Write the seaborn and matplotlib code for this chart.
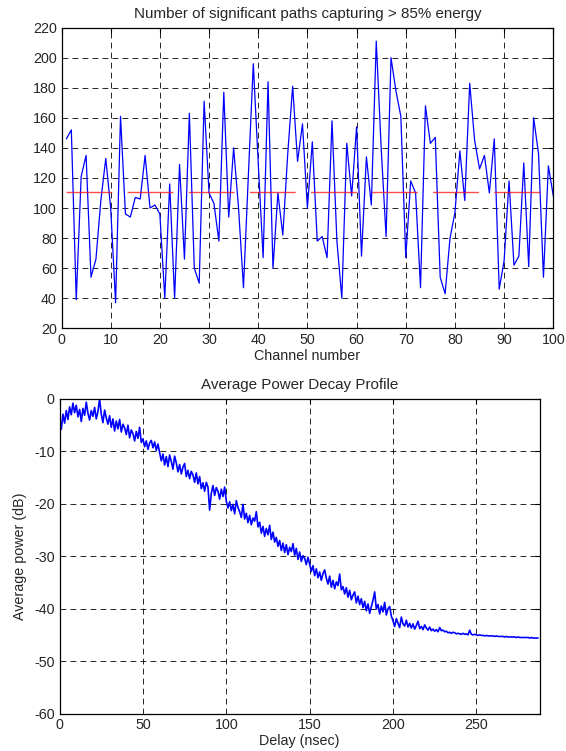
import matplotlib
matplotlib.use("Agg")
import matplotlib.pyplot as plt
import numpy as np
import pandas as pd
import seaborn as sns

# ---------------- data ----------------
channels = list(range(1, 101))
significant_paths = [
    146, 152, 39, 121, 135, 54, 66, 105, 133, 100,
    37, 161, 96, 94, 107, 106, 135, 100, 102, 96,
    40, 116, 40, 129, 66, 163, 60, 50, 171, 110,
    103, 78, 177, 94, 140, 100, 47, 122, 196, 130,
    67, 184, 60, 110, 82, 136, 181, 131, 156, 100,
    144, 78, 81, 67, 158, 78, 40, 143, 108, 154,
    68, 134, 102, 211, 140, 81, 200, 178, 161, 67,
    118, 110, 47, 168, 143, 147, 54, 43, 80, 97,
    138, 105, 183, 145, 126, 135, 110, 146, 46, 65,
    118, 62, 68, 130, 61, 160, 136, 54, 128, 108,
]
mean_paths = 110.7

delay_ns = list(range(0, 288))
avg_power_db = [
    -3.5, -5.8, -2.9, -4.6, -2.2, -3.9, -1.5, -3.0, -0.8, -2.6,
    -1.2, -3.4, -2.0, -4.3, -1.8, -3.1, -0.6, -2.7, -4.0, -2.2,
    -3.3, -1.6, -3.8, -2.4, 0.0, -2.9, -4.5, -2.1, -3.6, -4.8,
    -3.2, -5.4, -3.8, -6.1, -4.2, -5.7, -3.9, -6.3, -4.8, -5.5,
    -6.8, -5.0, -7.4, -5.9, -6.6, -8.0, -6.2, -7.5, -5.4, -8.3,
    -7.6, -9.1, -8.0, -9.6, -8.4, -7.9, -9.3, -8.2, -9.8, -8.6,
    -10.2, -11.8, -10.5, -12.6, -11.0, -12.9, -10.7, -11.9, -13.4, -10.9,
    -12.2, -13.9, -12.5, -14.3, -13.0, -12.3, -14.8, -13.6, -15.2, -13.8,
    -14.5, -15.9, -14.1, -16.2, -14.8, -17.1, -16.0, -17.6, -15.9, -16.8,
    -21.2, -18.0, -16.5, -18.4, -16.9, -17.6, -19.1, -17.2, -18.6, -16.8,
    -19.5, -20.8, -19.6, -21.3, -20.1, -21.9, -19.4, -20.7, -21.5, -22.6,
    -20.1, -22.9, -21.8, -23.6, -22.2, -24.0, -22.7, -23.3, -21.5, -24.4,
    -23.5, -25.6, -24.3, -26.2, -24.7, -25.9, -24.1, -26.8, -25.4, -27.3,
    -26.4, -28.1, -27.0, -28.9, -27.5, -29.3, -27.8, -29.7, -28.3, -29.1,
    -27.6, -29.8, -28.5, -30.6, -29.2, -31.0, -29.9, -30.4, -31.6, -30.2,
    -31.5, -32.9, -31.8, -33.7, -32.4, -34.1, -33.0, -34.6, -33.3, -32.6,
    -34.2, -35.3, -33.8, -35.9, -34.6, -36.2, -34.9, -35.6, -33.4, -36.4,
    -35.8, -37.2, -36.0, -37.8, -36.5, -38.3, -37.4, -36.8, -38.9, -37.6,
    -39.2, -38.1, -39.8, -38.6, -40.4, -39.1, -40.9, -39.6, -38.4, -36.8,
    -40.1, -39.2, -41.0, -39.5, -40.6, -38.8, -41.2, -40.0, -39.6, -41.4,
    -42.3, -43.4, -41.9, -42.8, -43.6, -41.6, -42.9, -43.3, -42.2, -43.5,
    -42.8, -43.7, -42.9, -43.9, -43.2, -42.4, -43.8, -43.4, -44.0, -43.1,
    -43.7, -44.1, -43.5, -44.2, -43.9, -44.3, -44.0, -44.4, -43.6, -44.2,
    -44.1, -44.4, -44.3, -44.6, -44.5, -44.7, -44.5, -44.6, -44.8, -44.7,
    -44.8, -44.9, -44.7, -44.9, -44.8, -45.0, -44.1, -44.9, -45.0, -44.9,
    -45.0, -45.1, -45.0, -45.1, -45.1, -45.2, -45.1, -45.2, -45.2, -45.2,
    -45.2, -45.3, -45.2, -45.3, -45.3, -45.3, -45.3, -45.4, -45.3, -45.4,
    -45.4, -45.4, -45.4, -45.4, -45.5, -45.4, -45.5, -45.5, -45.5, -45.5,
    -45.5, -45.5, -45.6, -45.5, -45.6, -45.6, -45.6, -45.6,
]

top_xticks = [0, 10, 20, 30, 40, 50, 60, 70, 80, 90, 100]
top_yticks = [20, 40, 60, 80, 100, 120, 140, 160, 180, 200, 220]
bot_xticks = [0, 50, 100, 150, 200, 250]
bot_yticks = [-60, -50, -40, -30, -20, -10, 0]

# ---------------- style ----------------
sns.set_style("white")
plt.rcParams["font.family"] = ["Liberation Sans", "DejaVu Sans"]
plt.rcParams["axes.unicode_minus"] = False
FS = 10.3
TFS = 10.9

fig = plt.figure(figsize=(5.66, 7.51), dpi=100)
W, H = 566, 751
ax1 = fig.add_axes([61.5 / W, 1 - 328.3 / H, (553.3 - 61.5) / W, (328.3 - 27.6) / H])
ax2 = fig.add_axes([59.6 / W, 1 - 713.5 / H, (539.7 - 59.6) / W, (713.5 - 399.0) / H])

df1 = pd.DataFrame({"channel": channels, "paths": significant_paths})
df2 = pd.DataFrame({"delay": delay_ns, "power": avg_power_db})

sns.lineplot(data=df1, x="channel", y="paths", ax=ax1, color="#0000FF", lw=0.9)
ax1.hlines(mean_paths, channels[0], channels[-1], colors="#FF0000", lw=1.0,
           linestyles=(0, (33, 11)), alpha=0.7)
sns.lineplot(data=df2, x="delay", y="power", ax=ax2, color="#0000FF", lw=1.2)


def style(ax, xt, yt, xlim, ylim, title, xlabel, ylabel):
    ax.set_xlim(*xlim)
    ax.set_ylim(*ylim)
    ax.set_xticks(xt)
    ax.set_yticks(yt)
    ax.grid(True, color="black", lw=0.6, linestyle=(0, (7, 5)))
    ax.set_axisbelow(True)
    ax.tick_params(direction="in", top=True, right=True, length=3.5, width=0.8,
                   labelsize=FS, pad=3.5, color="black")
    for s in ax.spines.values():
        s.set_visible(True)
        s.set_color("black")
        s.set_linewidth(0.9)
    ax.set_title(title, fontsize=TFS, pad=7)
    ax.set_xlabel(xlabel, fontsize=FS, labelpad=1)
    ax.set_ylabel(ylabel, fontsize=FS, labelpad=5)


style(ax1, top_xticks, top_yticks, (0, 100), (20, 220),
      "Number of significant paths capturing > 85% energy", "Channel number", "")
style(ax2, bot_xticks, bot_yticks, (0, 288), (-60, 0),
      "Average Power Decay Profile", "Delay (nsec)", "Average power (dB)")

fig.savefig("out.png", dpi=100)
